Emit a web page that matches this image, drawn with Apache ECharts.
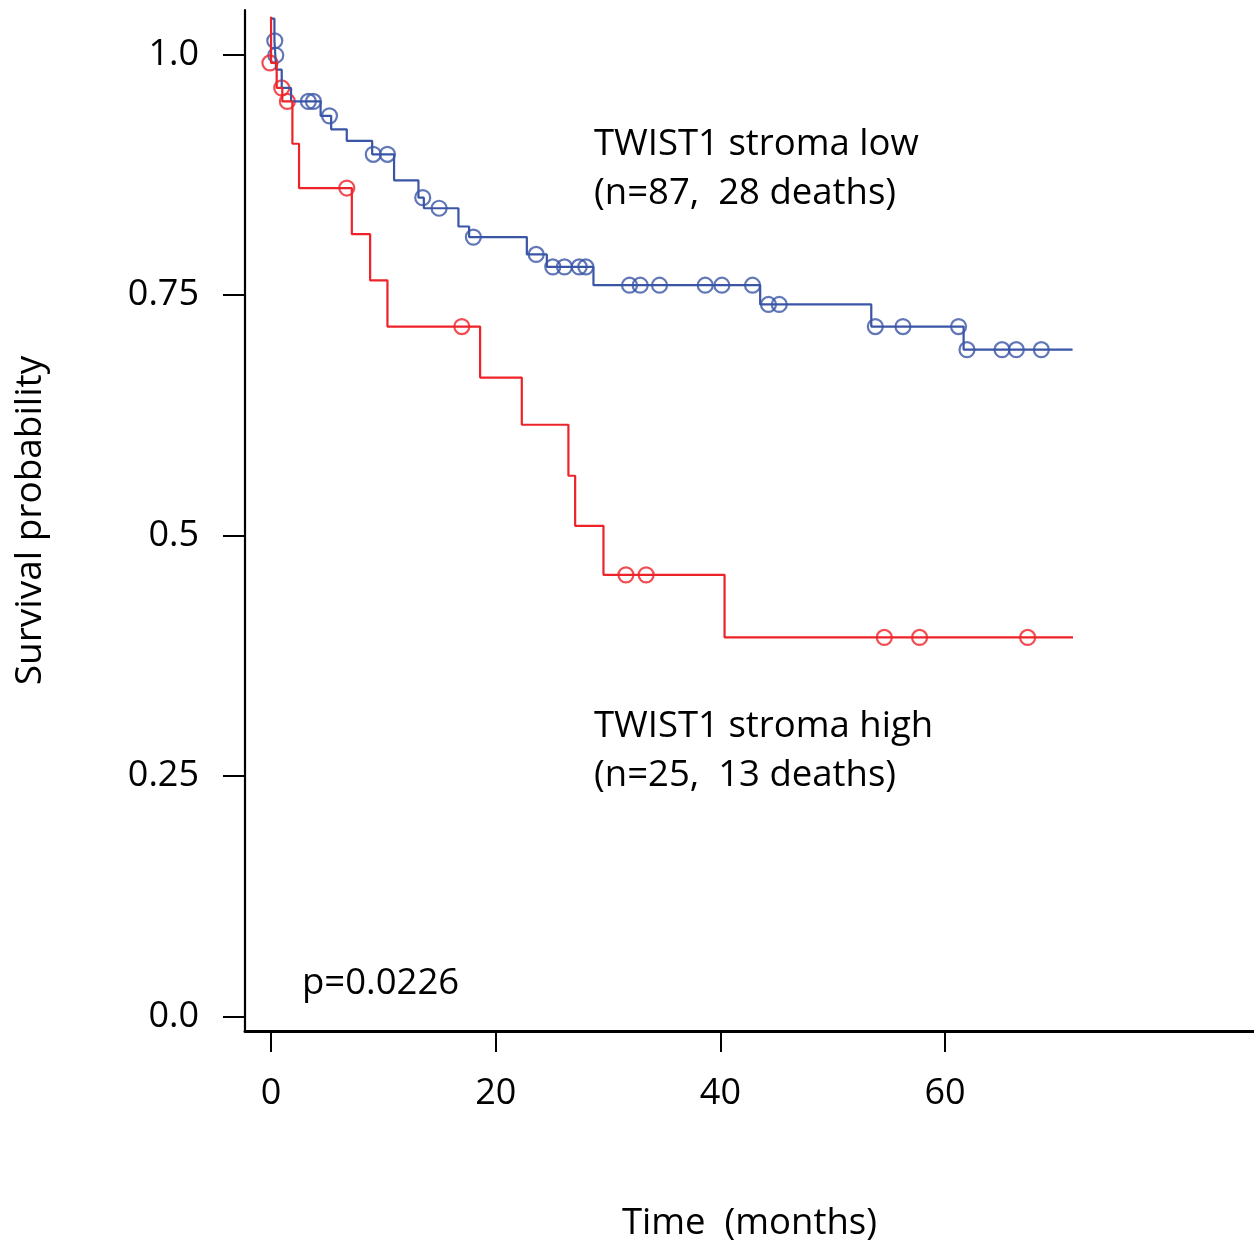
<!DOCTYPE html>
<html>
<head>
<meta charset="utf-8">
<script src="https://cdn.jsdelivr.net/npm/echarts@6/dist/echarts.min.js"></script>
<style>
    html, body {margin:0;padding:0;background:#fff}
    #chart {width:1254px;height:1247px}
</style>
</head>
<body>
<div id="chart"></div>
<script>
    // survival curve, TWIST1 stroma low (step points: time, survival after the step)
    var lowTimes = [0, 0.3, 0.38, 0.45, 0.95, 1.78, 4.41, 5.35, 6.74, 9.0, 10.95, 13.12, 13.6, 16.68, 17.63, 22.77, 24.55, 28.7, 43.54, 53.43, 61.65, 71.35];
    var lowSurv  = [1.037, 1.014, 0.999, 0.984, 0.965, 0.951, 0.936, 0.922, 0.910, 0.896, 0.869, 0.851, 0.840, 0.821, 0.810, 0.792, 0.779, 0.760, 0.740, 0.717, 0.693, 0.693];
    // censored cases, low
    var lowCensTimes = [0.33, 0.42, 3.32, 3.77, 5.2, 9.1, 10.36, 13.5, 14.96, 18.01, 23.6, 25.08, 26.12, 27.43, 28.02, 31.91, 32.86, 34.58, 38.65, 40.13, 42.86, 44.28, 45.24, 53.79, 56.25, 61.2, 61.95, 65.07, 66.34, 68.57];
    var lowCensSurv  = [1.014, 0.999, 0.951, 0.951, 0.936, 0.896, 0.896, 0.851, 0.840, 0.810, 0.792, 0.779, 0.779, 0.779, 0.779, 0.760, 0.760, 0.760, 0.760, 0.760, 0.760, 0.740, 0.740, 0.717, 0.717, 0.717, 0.693, 0.693, 0.693, 0.693];

    // TWIST1 stroma high
    var highTimes = [0, 0, 0.5, 1.0, 1.9, 2.49, 7.19, 8.82, 10.36, 18.61, 22.32, 26.47, 27.07, 29.59, 40.37, 71.39];
    var highSurv  = [1.039, 0.991, 0.965, 0.951, 0.907, 0.861, 0.813, 0.765, 0.717, 0.664, 0.615, 0.562, 0.510, 0.459, 0.394, 0.394];
    var highCensTimes = [-0.1, 0.95, 1.45, 6.74, 16.98, 31.59, 33.39, 54.59, 57.73, 67.35];
    var highCensSurv  = [0.991, 0.965, 0.951, 0.861, 0.717, 0.459, 0.459, 0.394, 0.394, 0.394];

    var xTicks = [0, 20, 40, 60];
    var yTicks = [0, 0.25, 0.5, 0.75, 1.0];
    var yTickLabels = ['0.0', '0.25', '0.5', '0.75', '1.0'];

    function pairs(xs, ys) {
        var out = [];
        for (var i = 0; i < xs.length; i++) out.push([xs[i], ys[i]]);
        return out;
    }

    var BLUE = '#3a55a5';
    var RED = '#ee2229';
    var FONT = '"Open Sans", "Noto Sans", sans-serif';

    var chart = echarts.init(document.getElementById('chart'));
    var option = {
        animation: false,
        backgroundColor: '#fff',
        grid: {left: 245, right: 0, top: 10, height: 1029},
        xAxis: {
            type: 'value',
            min: -2.32, max: 87.5,
            name: 'Time  (months)',
            nameLocation: 'middle',
            nameGap: 174,
            nameTextStyle: {fontSize: 36.5, color: '#000', fontFamily: FONT},
            axisLine: {onZero: false, lineStyle: {color: '#000', width: 3}},
            axisTick: {customValues: xTicks, length: 21, lineStyle: {color: '#000', width: 2}},
            axisLabel: {customValues: xTicks, margin: 45, fontSize: 36, color: '#000', fontFamily: FONT},
            splitLine: {show: false}
        },
        yAxis: {
            type: 'value',
            min: -0.015, max: 1.046,
            name: 'Survival probability',
            nameLocation: 'middle',
            nameGap: 196,
            nameTextStyle: {fontSize: 37, color: '#000', fontFamily: FONT},
            axisLine: {show: true, onZero: false, lineStyle: {color: '#000', width: 2.2}},
            axisTick: {show: true, customValues: yTicks, length: 22, lineStyle: {color: '#000', width: 2}},
            axisLabel: {
                customValues: yTicks, margin: 46, fontSize: 36, color: '#000', fontFamily: FONT,
                formatter: function (v) {
                    var i = yTicks.indexOf(v);
                    return i >= 0 ? yTickLabels[i] : '';
                }
            },
            splitLine: {show: false}
        },
        graphic: [
            {type: 'text', left: 594, top: 120, style: {text: 'TWIST1 stroma low\n(n=87,  28 deaths)', fontSize: 36.5, lineHeight: 49, fontFamily: FONT, fill: '#000'}},
            {type: 'text', left: 594, top: 702, style: {text: 'TWIST1 stroma high\n(n=25,  13 deaths)', fontSize: 36.5, lineHeight: 49, fontFamily: FONT, fill: '#000'}},
            {type: 'text', left: 302, top: 959, style: {text: 'p=0.0226', fontSize: 36.5, lineHeight: 49, fontFamily: FONT, fill: '#000'}}
        ],
        series: [
            {
                type: 'line', step: 'end', showSymbol: false,
                data: pairs(lowTimes, lowSurv),
                lineStyle: {color: BLUE, width: 2.2}
            },
            {
                type: 'scatter', symbol: 'circle', symbolSize: 15,
                data: pairs(lowCensTimes, lowCensSurv),
                itemStyle: {color: 'rgba(0,0,0,0)', borderColor: BLUE, borderWidth: 2.2}
            },
            {
                type: 'line', step: 'end', showSymbol: false,
                data: pairs(highTimes, highSurv),
                lineStyle: {color: RED, width: 2.2}
            },
            {
                type: 'scatter', symbol: 'circle', symbolSize: 15,
                data: pairs(highCensTimes, highCensSurv),
                itemStyle: {color: 'rgba(0,0,0,0)', borderColor: RED, borderWidth: 2.2}
            }
        ]
    };
    chart.setOption(option);
</script>
</body>
</html>
